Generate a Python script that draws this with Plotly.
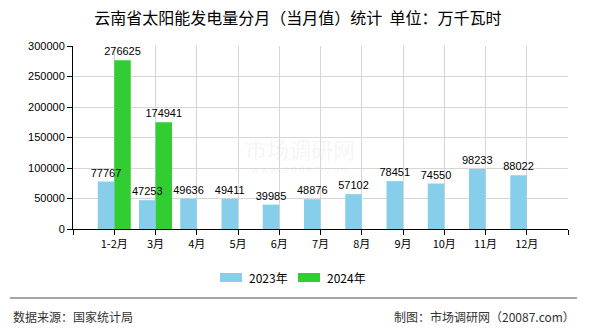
import plotly.graph_objects as go

title_text = "云南省太阳能发电量分月（当月值）统计  单位：万千瓦时"
categories = ["1-2月", "3月", "4月", "5月", "6月", "7月", "8月", "9月", "10月", "11月", "12月"]
series_names = ["2023年", "2024年"]
values_2023 = [77767, 47253, 49636, 49411, 39985, 48876, 57102, 78451, 74550, 98233, 88022]
values_2024 = [276625, 174941]
y_ticks = [0, 50000, 100000, 150000, 200000, 250000, 300000]
colors = ["#87CEEB", "#32CD32"]
source_text = "数据来源：国家统计局"
credit_text = "制图：市场调研网（20087.com）"

W, H = 590, 330
L, R, T, B = 73, 22, 46, 101
pw = W - L - R
ph = H - T - B

def px_to_paper_x(px):
    return (px - L) / pw

def px_to_paper_y(py):
    return (H - B - py) / ph

font_num = "Liberation Sans, Arial, sans-serif"
font_cjk = "Noto Sans CJK SC, Liberation Sans, sans-serif"

xs_2023 = list(range(len(values_2023)))
xs_2024 = list(range(len(values_2024)))
bar_w = 0.4

fig = go.Figure()
# 2024 drawn first so that 2023 labels sit on top of the green bars
fig.add_trace(go.Bar(
    x=xs_2024, y=values_2024, name=series_names[1],
    offset=0, width=bar_w,
    marker=dict(color=colors[1], line=dict(width=0)),
    text=[str(v) for v in values_2024], textposition="outside",
    constraintext="none", cliponaxis=False,
    textfont=dict(family=font_num, size=11, color="#000000"),
    showlegend=False,
))
fig.add_trace(go.Bar(
    x=xs_2023, y=values_2023, name=series_names[0],
    offset=-bar_w, width=bar_w,
    marker=dict(color=colors[0], line=dict(width=0)),
    text=[str(v) for v in values_2023], textposition="outside",
    constraintext="none", cliponaxis=False,
    textfont=dict(family=font_num, size=11, color="#000000"),
    showlegend=False,
))

n = len(categories)
tickvals = list(range(-1, n + 1))
ticktext = [""] + categories + [""]

fig.update_layout(
    width=W, height=H,
    margin=dict(l=L, r=R, t=T, b=B, pad=0),
    paper_bgcolor="white", plot_bgcolor="white",
    barmode="overlay",
    font=dict(family=font_cjk, size=11, color="#000000"),
    title=dict(text=title_text, x=0.505, xanchor="center", y=1 - 18 / H, yanchor="middle",
               yref="container", font=dict(family=font_cjk, size=16, color="#000000")),
    xaxis=dict(
        range=[-1, n], tickmode="array", tickvals=tickvals, ticktext=ticktext,
        showgrid=True, gridcolor="#d6d6d6", gridwidth=1,
        showline=True, linecolor="#000000", linewidth=1,
        ticks="outside", ticklen=5, tickcolor="#000000",
        tickfont=dict(family=font_cjk, size=11, color="#000000"),
        zeroline=False, fixedrange=True,
    ),
    yaxis=dict(
        range=[0, 300000], tickmode="array", tickvals=y_ticks,
        ticktext=[str(v) for v in y_ticks],
        showgrid=True, gridcolor="#d6d6d6", gridwidth=1,
        showline=True, linecolor="#000000", linewidth=1,
        ticks="outside", ticklen=5, tickcolor="#000000",
        tickfont=dict(family=font_num, size=11, color="#000000"),
        zeroline=False, fixedrange=True,
    ),
)

# watermark (very faint)
fig.add_annotation(text="市场调研网", xref="paper", yref="paper",
                   x=px_to_paper_x(300), y=px_to_paper_y(148), showarrow=False,
                   font=dict(family=font_cjk, size=22, color="rgba(200,200,200,0.18)"))
fig.add_annotation(text="w w w . 2 0 0 8 7 . c o m", xref="paper", yref="paper",
                   x=px_to_paper_x(300), y=px_to_paper_y(177), showarrow=False,
                   font=dict(family=font_num, size=9, color="rgba(200,200,200,0.22)"))

# legend (manual)
legend_items = [(220, 247), (298, 325)]
for (sx, tx), name, col in zip(legend_items, series_names, colors):
    fig.add_shape(type="rect", xref="paper", yref="paper",
                  x0=px_to_paper_x(sx), x1=px_to_paper_x(sx + 22),
                  y0=px_to_paper_y(282), y1=px_to_paper_y(273),
                  fillcolor=col, line=dict(width=0))
    fig.add_annotation(text=name, xref="paper", yref="paper",
                       x=px_to_paper_x(tx), y=px_to_paper_y(277.5), xanchor="left", yanchor="middle",
                       showarrow=False, font=dict(family=font_cjk, size=12, color="#000000"))

# separator line
fig.add_shape(type="line", xref="paper", yref="paper",
              x0=px_to_paper_x(10), x1=px_to_paper_x(577),
              y0=px_to_paper_y(298), y1=px_to_paper_y(298),
              line=dict(color="#888888", width=1.5))

# footer
fig.add_annotation(text=source_text, xref="paper", yref="paper",
                   x=px_to_paper_x(11), y=px_to_paper_y(316), xanchor="left", yanchor="middle",
                   showarrow=False, font=dict(family=font_cjk, size=12, color="#333333"))
fig.add_annotation(text=credit_text, xref="paper", yref="paper",
                   x=px_to_paper_x(577), y=px_to_paper_y(316), xanchor="right", yanchor="middle",
                   showarrow=False, font=dict(family=font_cjk, size=12, color="#333333"))

fig.write_html("out.html")
